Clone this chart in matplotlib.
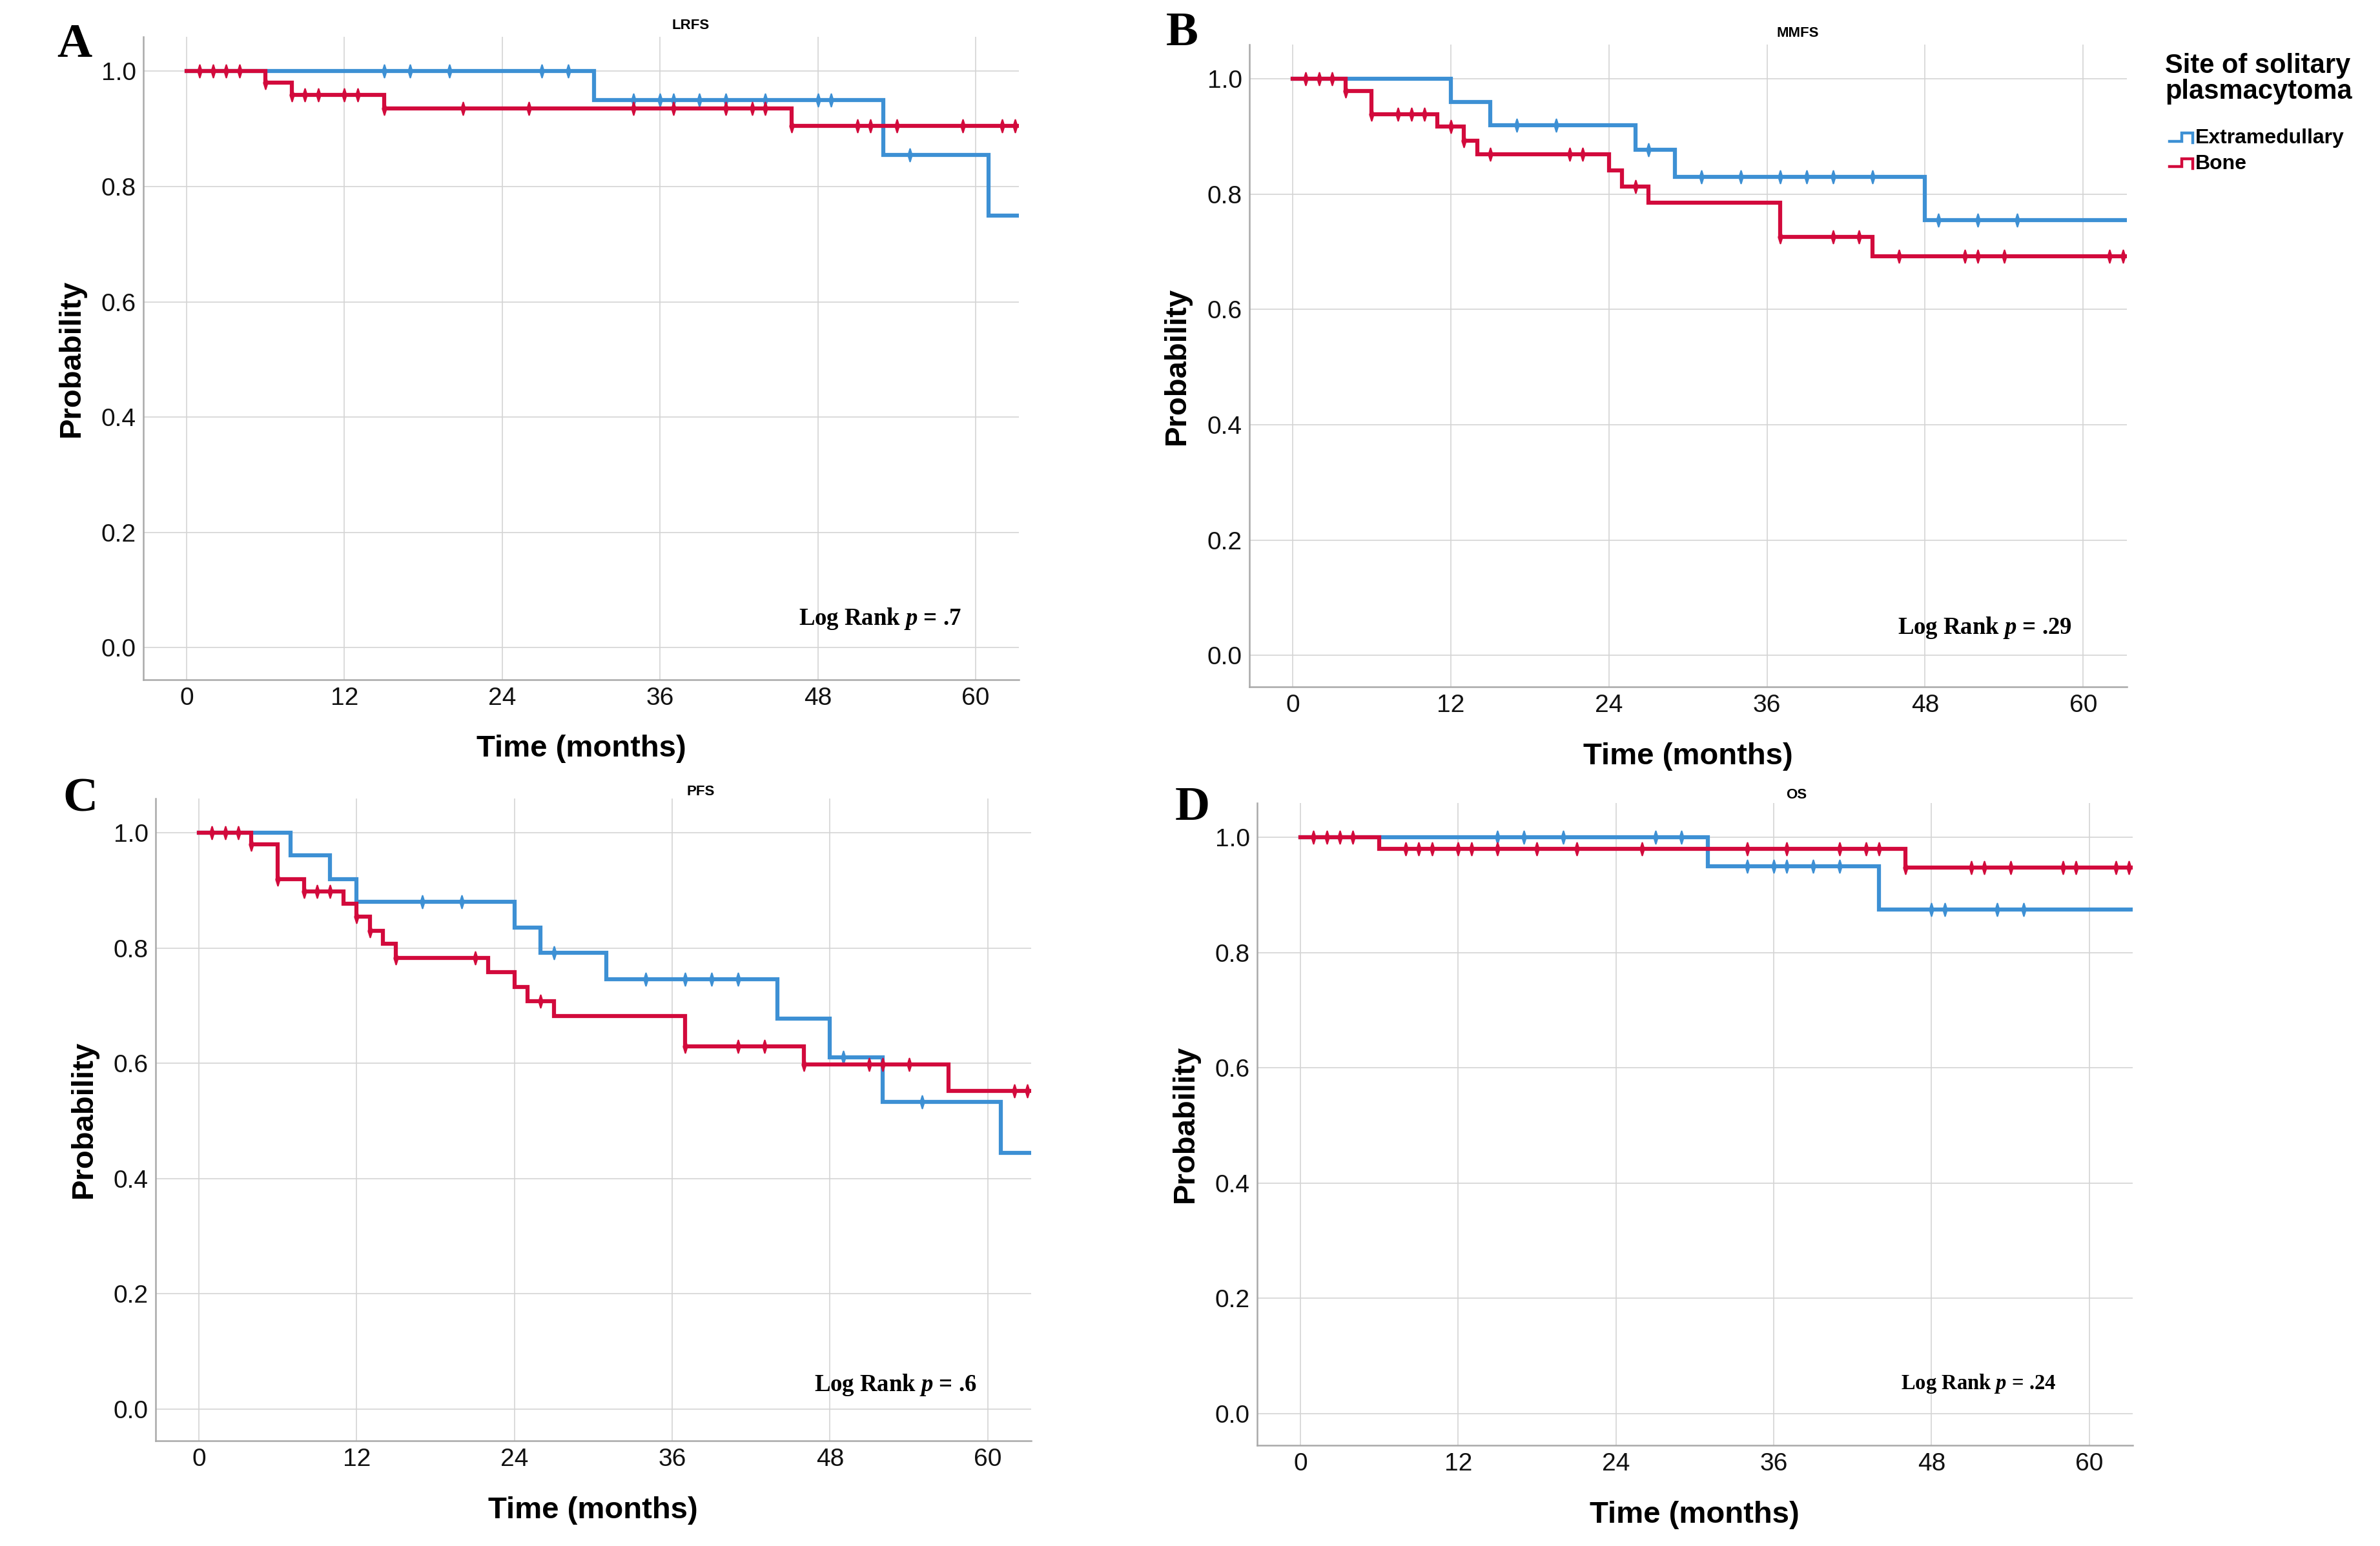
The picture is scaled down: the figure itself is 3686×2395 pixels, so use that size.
import numpy as np
import matplotlib
matplotlib.use('Agg')
import matplotlib.pyplot as plt
from matplotlib.lines import Line2D
from matplotlib.path import Path

plt.rcParams['font.family'] = ['Liberation Sans', 'DejaVu Sans']
plt.rcParams['mathtext.fontset'] = 'custom'
plt.rcParams['mathtext.it'] = 'Liberation Serif:italic:bold'
plt.rcParams['mathtext.rm'] = 'Liberation Serif:bold'

BLUE = '#3d90d4'
RED = '#d20a3c'

# ---------------- data (months, survival probability) ----------------
group_names = ['Extramedullary', 'Bone']
x_ticks = [0, 12, 24, 36, 48, 60]
y_ticks = [0.0, 0.2, 0.4, 0.6, 0.8, 1.0]
panel_titles = ['LRFS', 'MMFS', 'PFS', 'OS']
panel_letters = ['A', 'B', 'C', 'D']
p_values = ['.7', '.29', '.6', '.24']
last_followup = 63.3

# A: LRFS
A_ext_times = [31, 53, 61]
A_ext_surv = [0.95, 0.855, 0.75]
A_ext_cens = [15, 17, 20, 27, 29, 34, 36, 37, 39, 41, 44, 48, 49, 55]
A_bone_times = [6, 8, 15, 46]
A_bone_surv = [0.98, 0.959, 0.935, 0.905]
A_bone_cens = [1, 2, 3, 4, 6, 8, 9, 10, 12, 13, 15, 21, 26, 34, 37, 41, 43, 44,
               46, 51, 52, 54, 59, 62, 63]

# B: MMFS
B_ext_times = [12, 15, 26, 29, 48]
B_ext_surv = [0.96, 0.92, 0.877, 0.83, 0.755]
B_ext_cens = [17, 20, 27, 31, 34, 37, 39, 41, 44, 49, 52, 55]
B_bone_times = [4, 6, 11, 13, 14, 24, 25, 27, 37, 44]
B_bone_surv = [0.979, 0.939, 0.917, 0.893, 0.869, 0.841, 0.813, 0.785, 0.726, 0.692]
B_bone_cens = [1, 2, 3, 4, 6, 8, 9, 10, 12, 13, 15, 21, 22, 26, 37, 41, 43, 46,
               51, 52, 54, 62, 63]

# C: PFS
C_ext_times = [7, 10, 12, 24, 26, 31, 44, 48, 52, 61]
C_ext_surv = [0.961, 0.92, 0.88, 0.836, 0.792, 0.746, 0.678, 0.61, 0.533, 0.445]
C_ext_cens = [17, 20, 27, 34, 37, 39, 41, 49, 55]
C_bone_times = [4, 6, 8, 11, 12, 13, 14, 15, 22, 24, 25, 27, 37, 46, 57]
C_bone_surv = [0.98, 0.919, 0.898, 0.877, 0.854, 0.830, 0.807, 0.783, 0.758,
               0.732, 0.708, 0.682, 0.629, 0.598, 0.552]
C_bone_cens = [1, 2, 3, 4, 6, 8, 9, 10, 12, 13, 15, 21, 26, 37, 41, 43, 46, 51,
               52, 54, 62, 63]

# D: OS
D_ext_times = [31, 44]
D_ext_surv = [0.95, 0.875]
D_ext_cens = [15, 17, 20, 27, 29, 34, 36, 37, 39, 41, 48, 49, 53, 55]
D_bone_times = [6, 46]
D_bone_surv = [0.98, 0.948]
D_bone_cens = [1, 2, 3, 4, 8, 9, 10, 12, 13, 15, 18, 21, 26, 34, 37, 41, 43, 44,
               46, 51, 52, 54, 58, 59, 62, 63]

panels_data = [
    ((A_ext_times, A_ext_surv, A_ext_cens), (A_bone_times, A_bone_surv, A_bone_cens)),
    ((B_ext_times, B_ext_surv, B_ext_cens), (B_bone_times, B_bone_surv, B_bone_cens)),
    ((C_ext_times, C_ext_surv, C_ext_cens), (C_bone_times, C_bone_surv, C_bone_cens)),
    ((D_ext_times, D_ext_surv, D_ext_cens), (D_bone_times, D_bone_surv, D_bone_cens)),
]

# ---------------- layout (reference px on a ~1569x1019 grid) ----------------
W, H = 1569.0, 1019.2
boxes = [(94.4, 24.2, 671.6, 447.9),
         (823.3, 29.2, 1401.6, 452.9),
         (102.4, 526.2, 679.6, 949.9),
         (828.4, 529.2, 1405.6, 952.9)]
letter_pos = [(49, 30), (779, 22), (53, 527), (786, 533)]
title_pos = [(455, 17), (1185, 22), (462, 522), (1184, 524)]
logrank_pos = [(580, 408), (1308, 414), (590, 913), (1304, 912)]
logrank_size = [26.5, 26.5, 26.5, 23.5]

fig = plt.figure(figsize=(36.87, 23.95), dpi=100)

tick_marker = Path([(0, 1), (0.3, 0), (0, -1), (-0.3, 0), (0, 1)],
                   [Path.MOVETO, Path.LINETO, Path.LINETO, Path.LINETO, Path.CLOSEPOLY])


def step_xy(times, surv, end):
    x = np.concatenate([[0.0], np.asarray(times, float), [end]])
    y = np.concatenate([[1.0], np.asarray(surv, float), [surv[-1]]])
    return x, y


def level_at(t, times, surv):
    levels = np.concatenate([[1.0], np.asarray(surv, float)])
    idx = np.searchsorted(np.asarray(times, float), np.asarray(t, float), side='right')
    return levels[idx]


for i, (box, data) in enumerate(zip(boxes, panels_data)):
    l, t, r, b = box
    ax = fig.add_axes([l / W, 1 - b / H, (r - l) / W, (b - t) / H])
    ax.set_xlim(-3.3, last_followup)
    ax.set_ylim(-0.055, 1.06)
    ax.set_xticks(x_ticks)
    ax.set_yticks(y_ticks)
    ax.set_xticklabels([str(v) for v in x_ticks])
    ax.set_yticklabels(['%.1f' % v for v in y_ticks])
    ax.grid(True, color='#d4d4d4', lw=1.2)
    ax.set_axisbelow(True)
    ax.tick_params(length=0, labelsize=28, pad=8, colors='#111111')
    for s in ['top', 'right']:
        ax.spines[s].set_visible(False)
    for s in ['left', 'bottom']:
        ax.spines[s].set_color('#a9a9a9')
        ax.spines[s].set_linewidth(1.8)

    for (times, surv, cens), col in zip(data, [BLUE, RED]):
        x, y = step_xy(times, surv, last_followup)
        ax.plot(x, y, drawstyle='steps-post', color=col, lw=4.5, solid_joinstyle='miter')
        cy = level_at(cens, times, surv)
        ax.plot(cens, cy, ls='none', marker=tick_marker, ms=14, color=col,
                mec=col, mew=1.8)

    ax.text(-0.082, 0.5, 'Probability', transform=ax.transAxes, rotation=90,
            ha='center', va='center', fontsize=34, fontweight='bold')
    ax.text(0.5, -0.108, 'Time (months)', transform=ax.transAxes,
            ha='center', va='center', fontsize=34, fontweight='bold')

    lx, ly = letter_pos[i]
    fig.text(lx / W, 1 - ly / H, panel_letters[i], ha='center', va='center',
             fontsize=54, fontweight='bold', family=['Liberation Serif', 'DejaVu Serif'])
    tx, ty = title_pos[i]
    fig.text(tx / W, 1 - ty / H, panel_titles[i], ha='center', va='center',
             fontsize=16, fontweight='bold')
    px, py = logrank_pos[i]
    fig.text(px / W, 1 - py / H, 'Log Rank $p$ = ' + p_values[i], ha='center',
             va='center', fontsize=logrank_size[i], fontweight='bold',
             family=['Liberation Serif', 'DejaVu Serif'])

# ---------------- legend ----------------
fig.text(1427 / W, 1 - 35 / H, 'Site of solitary\nplasmacytoma', ha='left', va='top',
         fontsize=30, fontweight='bold', linespacing=0.98)
for k, (name, col) in enumerate(zip(group_names, [BLUE, RED])):
    yc = 91 + 17 * k
    gx = np.array([1430, 1438, 1438, 1445, 1445]) / W
    gy = 1 - (yc + np.array([2, 2, -3.5, -3.5, 3])) / H
    fig.add_artist(Line2D(gx, gy, color=col, lw=3.2, solid_joinstyle='miter',
                          transform=fig.transFigure))
    fig.text(1447 / W, 1 - yc / H, name, ha='left', va='center', fontsize=23,
             fontweight='bold')

fig.savefig('out.png', dpi=100, facecolor='white')
